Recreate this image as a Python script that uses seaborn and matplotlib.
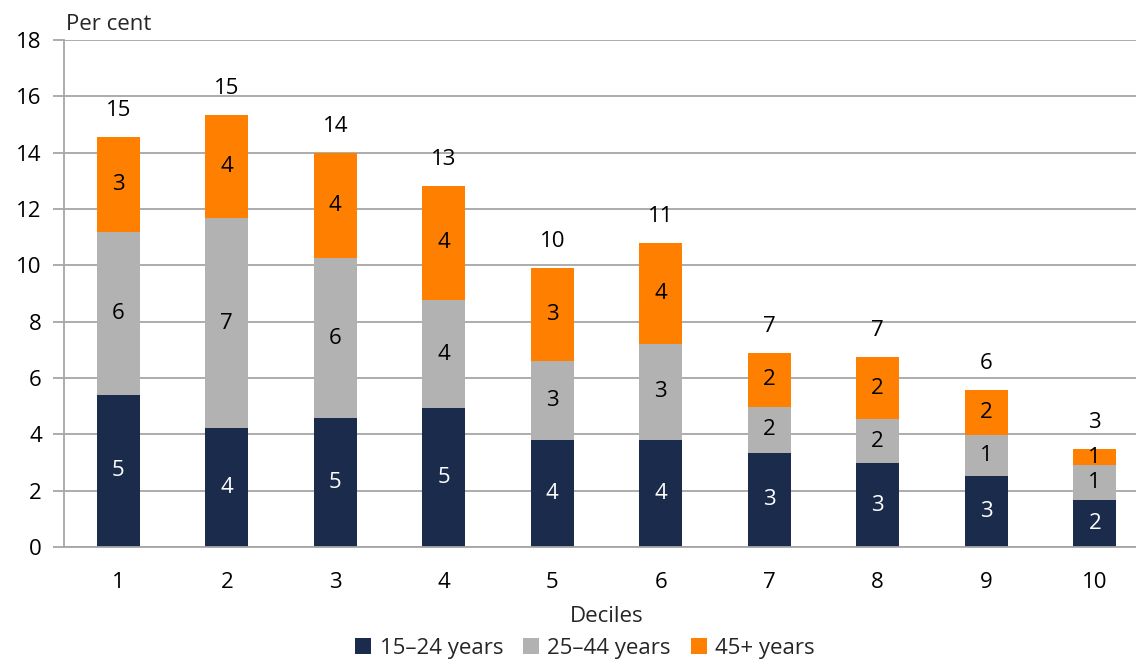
import numpy as np
import pandas as pd
import matplotlib.pyplot as plt
import seaborn as sns
from matplotlib.patches import Patch

deciles = ["1", "2", "3", "4", "5", "6", "7", "8", "9", "10"]
age_15_24 = [5.40, 4.22, 4.58, 4.93, 3.80, 3.80, 3.34, 2.98, 2.52, 1.68]
age_25_44 = [5.78, 7.46, 5.68, 3.84, 2.80, 3.41, 1.63, 1.56, 1.46, 1.22]
age_45_plus = [3.37, 3.66, 3.73, 4.05, 3.30, 3.58, 1.92, 2.20, 1.60, 0.58]
series_names = ["15\u201324 years", "25\u201344 years", "45+ years"]
colors = ["#1b2b4b", "#b2b2b2", "#ff7f00"]

sns.set_theme(style="white")
plt.rcParams["font.family"] = ["Open Sans", "DejaVu Sans"]

df = pd.DataFrame({
    "decile": deciles,
    "a": age_15_24,
    "b": age_25_44,
    "c": age_45_plus,
})
df["cum_a"] = df["a"]
df["cum_b"] = df["a"] + df["b"]
df["cum_c"] = df["cum_b"] + df["c"]

W, H = 1136, 664
fig = plt.figure(figsize=(W / 100, H / 100), dpi=100)
# the plot area runs a little past the right edge of the picture
ax = fig.add_axes([64 / W, 1 - 547 / H, (1149 - 64) / W, (547 - 40) / H])

grid_col = "#a6a6a6"
ax.set_axisbelow(True)
ax.yaxis.grid(True, color=grid_col, linewidth=1.3)

# stacked bars: draw cumulative heights from top layer down
for col, c in zip(["cum_c", "cum_b", "cum_a"], colors[::-1]):
    sns.barplot(data=df, x="decile", y=col, color=c, width=0.4,
                saturation=1, edgecolor="none", ax=ax, order=deciles)


def rnd(v):
    return int(np.floor(v + 0.5))


fs = 16
for i in range(len(deciles)):
    a, b, c = age_15_24[i], age_25_44[i], age_45_plus[i]
    ax.text(i, a / 2, rnd(a), ha="center", va="center", color="white", fontsize=fs)
    ax.text(i, a + b / 2, rnd(b), ha="center", va="center", color="black", fontsize=fs)
    ax.text(i, a + b + c / 2, rnd(c), ha="center", va="center", color="black", fontsize=fs)
    ax.text(i, a + b + c + 0.95, rnd(a + b + c), ha="center", va="center",
            color="black", fontsize=fs)

ax.set_xlim(-0.5, 9.5)
ax.set_ylim(0, 18)
ax.set_yticks(np.arange(0, 19, 2))
ax.set_xticks(range(len(deciles)))
ax.set_xticklabels(deciles)
ax.set_xticks(np.arange(0.5, 9.6, 1), minor=True)
ax.tick_params(axis="x", which="major", length=0, labelsize=fs, pad=18, colors="black")
ax.tick_params(axis="x", which="minor", length=10, width=1.3, color=grid_col, direction="out")
ax.tick_params(axis="y", length=8, width=1.3, color=grid_col, labelsize=fs, pad=8,
               labelcolor="black", left=True)
for s in ["top", "right"]:
    ax.spines[s].set_visible(False)
for s in ["left", "bottom"]:
    ax.spines[s].set_color(grid_col)
    ax.spines[s].set_linewidth(1.3)

ax.set_xlabel("Deciles", fontsize=fs, labelpad=9)
ax.set_ylabel("")
fig.text(66 / W, 1 - 25 / H, "Per cent", fontsize=fs, va="center", ha="left")

handles = [Patch(facecolor=c, edgecolor="none") for c in colors]
fig.legend(handles, series_names, loc="lower center", bbox_to_anchor=(0.515, -0.022),
           ncol=3, frameon=False, fontsize=fs, handlelength=0.7, handleheight=0.7,
           handletextpad=0.4, columnspacing=0.9)

fig.savefig("out.png", dpi=100)
